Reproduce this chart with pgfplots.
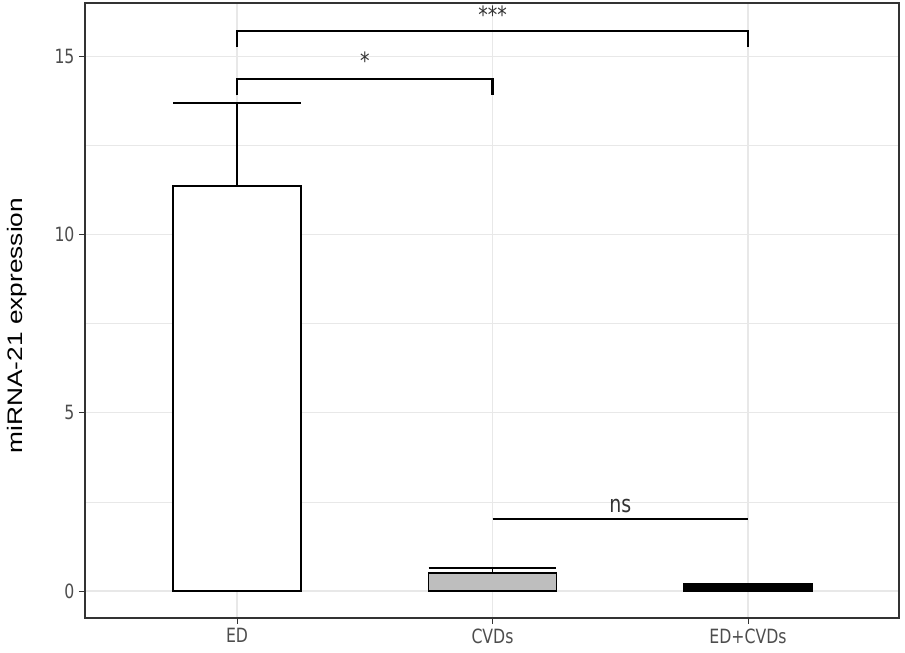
\documentclass[border=0pt]{standalone}
\usepackage{pgfplots}
\pgfplotsset{compat=1.18}
\usepackage{fontspec}
\newfontfamily\dejavu{DejaVu Sans}
\newfontfamily\arialf{Liberation Sans}
\definecolor{grid92}{HTML}{E8E8E8}
\definecolor{grey20}{HTML}{333333}
\definecolor{grey30}{HTML}{4D4D4D}
\definecolor{boxgray}{HTML}{BEBEBE}
\newcommand{\tl}[1]{\scalebox{1}[1.25]{#1}}
\begin{document}
\begin{tikzpicture}
\path[use as bounding box] (-85bp,-35bp) rectangle (820bp,618bp);
\begin{axis}[
  scale only axis,
  width=814bp, height=615bp,
  xmin=0.405, xmax=3.591,
  ymin=-0.757, ymax=16.49,
  xtick={1,2,3},
  xticklabels={\tl{ED},\tl{CVDs},\tl{ED+CVDs}},
  ytick={0,5,10,15},
  yticklabels={\tl{0},\tl{5},\tl{10},\tl{15}},
  minor ytick={2.5,7.5,12.5},
  xtick pos=bottom, ytick pos=left,
  tick align=outside,
  major tick length=6bp,
  minor tick length=0bp,
  tick style={grey20, line width=1bp},
  grid=both,
  major grid style={grid92, line width=1.1bp},
  minor grid style={grid92, line width=0.7bp},
  axis line style={grey20, line width=1.4bp},
  ticklabel style={font=\dejavu\fontsize{15.7bp}{18bp}\selectfont, text=grey30},
  xticklabel style={yshift=-1bp},
  yticklabel style={xshift=-1bp},
  ylabel={\scalebox{1.25}[1]{miRNA-21 expression}},
  ylabel style={font=\arialf\fontsize{21bp}{25bp}\selectfont, at={(axis description cs:-0.0829,0.4756)}, anchor=center},
  clip=false,
]
% ED box
\addplot[draw=black, fill=white, line width=1.6bp] coordinates {(0.75,0) (0.75,11.35) (1.25,11.35) (1.25,0)} --cycle;
\addplot[black, line width=1.8bp] coordinates {(1,11.35) (1,13.68)};
\addplot[black, line width=1.8bp] coordinates {(0.75,13.68) (1.25,13.68)};
% CVDs box
\addplot[draw=black, fill=boxgray, line width=1.6bp] coordinates {(1.75,0) (1.75,0.51) (2.25,0.51) (2.25,0)} --cycle;
\addplot[black, line width=1.2bp] coordinates {(2,0.51) (2,0.64)};
\addplot[black, line width=1.6bp] coordinates {(1.75,0.64) (2.25,0.64)};
% ED+CVDs box
\addplot[draw=black, fill=black, line width=1.6bp] coordinates {(2.75,0) (2.75,0.2) (3.25,0.2) (3.25,0)} --cycle;
% brackets
\addplot[black, line width=2.2bp] coordinates {(1,13.9) (1,14.35) (2,14.35) (2,13.9)};
\addplot[black, line width=2.2bp] coordinates {(1,15.25) (1,15.70) (3,15.70) (3,15.25)};
\addplot[black, line width=2.2bp] coordinates {(2,2.01) (3,2.01)};
\node[font=\dejavu\fontsize{19bp}{22bp}\selectfont, text=grey20] at (axis cs:1.5,14.86) {\tl{*}};
\node[font=\dejavu\fontsize{19bp}{22bp}\selectfont, text=grey20] at (axis cs:2,16.15) {\tl{***}};
\node[font=\dejavu\fontsize{19bp}{22bp}\selectfont, text=grey20, anchor=base] at (axis cs:2.5,2.19) {\tl{ns}};
\end{axis}
\end{tikzpicture}
\end{document}
